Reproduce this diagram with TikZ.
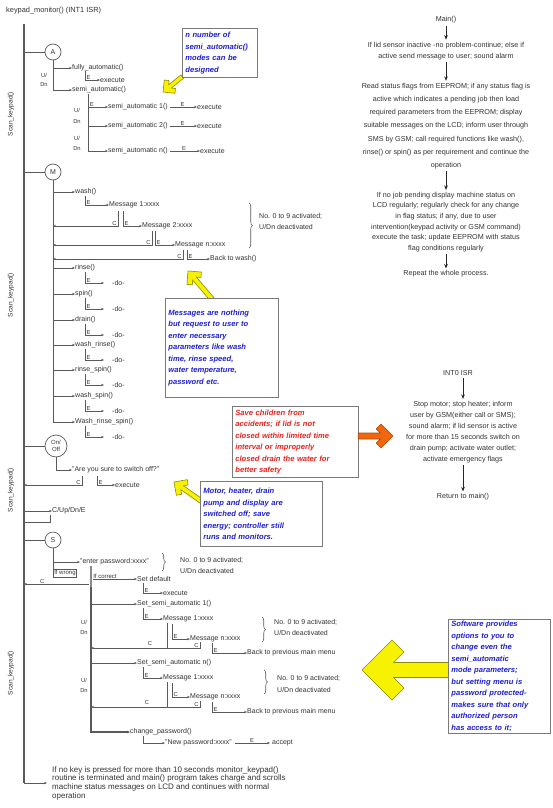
\documentclass[tikz,border=0pt]{standalone}
\usepackage{fontspec}
\setmainfont{Liberation Sans}
\usetikzlibrary{arrows.meta,decorations.pathreplacing}
\definecolor{ink}{HTML}{333333}
\definecolor{ln}{HTML}{5A5A5A}
\definecolor{noteblue}{HTML}{1F1FD6}
\definecolor{notered}{HTML}{E8231F}
\definecolor{yel}{HTML}{F7F200}
\definecolor{yelb}{HTML}{8F8A00}
\definecolor{org}{HTML}{F2660F}
\definecolor{orgb}{HTML}{B04A08}
\definecolor{boxb}{HTML}{7A7A7A}
\tikzset{
 txt/.style={inner sep=0pt, anchor=west, font=\fontsize{7}{7.5}\selectfont, text=ink},
 ctr/.style={inner sep=0pt, align=center, text=ink},
 lab/.style={inner sep=0pt, font=\fontsize{5.8}{6}\selectfont, text=ink},
 rotlab/.style={inner sep=0pt, rotate=90, font=\fontsize{6.6}{7}\selectfont, text=ink},
 wire/.style={draw=ln, line width=0.6pt},
 arr/.style={wire, -{Stealth[length=3pt,width=2.4pt]}},
 trunk/.style={draw=ln, line width=1.1pt},
 varr/.style={draw=black!85, line width=0.8pt, -{Stealth[length=4.5pt,width=3.6pt]}, shorten <=2pt, shorten >=2pt},
 circ/.style={circle, draw=ln, line width=0.7pt, minimum size=16pt, inner sep=0pt, font=\fontsize{7}{7}\selectfont, text=ink},
 note/.style={draw=boxb, line width=0.8pt, fill=white, inner xsep=3pt, inner ysep=2pt, align=left, anchor=north west, font=\fontsize{7.6}{11.5}\bfseries\itshape\selectfont},
 brace/.style={wire, decorate, decoration={brace, amplitude=3.5pt}},
 yarr/.style={fill=yel, draw=yelb, line width=0.6pt, line join=miter},
 oarr/.style={fill=org, draw=orgb, line width=0.6pt, line join=miter},
}
\newcommand\Ebr[5][]{\draw[arr,#1] (#2,#3) |- (#4.west) node[lab, pos=0.5, anchor=south west, xshift=1.2pt, yshift=0.4pt]{#5};}
\newcommand\Cbr[4]{\draw[arr] (#1,#2) |- (#4,#3) node[lab, pos=0.5, anchor=south east, xshift=-1.2pt, yshift=0.4pt]{C};}
\newcommand\chev[6]{%
 \begin{scope}[shift={(#2,#3)}, rotate=#4, scale=#5]
 \path[#1] (0,0) -- (10,10) -- (14,6) -- (10.5,2.5) -- (#6,2.5) -- (#6,-2.5) -- (10.5,-2.5) -- (14,-6) -- (10,-10) -- cycle;
 \end{scope}}
\begin{document}
\begin{tikzpicture}[x=1pt,y=-1pt]
\useasboundingbox (0,0) rectangle (553,808);
\fill[white] (0,0) rectangle (553,808);
% ---------- left flow ----------
\node[txt, font=\fontsize{7.4}{8}\selectfont] (title) at (6,11) {keypad\_monitor() (INT1 ISR)};
\coordinate (kend) at (47,783);
\draw[trunk] (24,24) -- (24,783);
\draw[arr] (24,783) -- (kend);
\node[rotlab] (sk1) at (11,114) {Scan\_keypad()};
\node[rotlab] (sk2) at (11,295) {Scan\_keypad()};
\node[rotlab] (sk3) at (11,490) {Scan\_keypad()};
\node[rotlab] (sk4) at (11,673) {Scan\_keypad()};
% A
\node[circ] (A) at (53,52) {A};
\draw[wire] (24,52) -- (A.west);
\node[txt] (fa) at (72,68) {fully\_automatic()};
\node[txt] (sa) at (72,90) {semi\_automatic()};
\draw[arr] (A.south) |- (sa.west);
\draw[arr] (53,68) -- (fa.west);
\node[txt] (ex1) at (100,80) {execute};
\Ebr{85}{71}{ex1}{E}
\node[lab] (ua) at (44,75) {U/};
\node[lab] (da) at (44,85) {Dn};
\node[txt] (s1) at (108,107) {semi\_automatic 1()};
\node[txt] (s2) at (108,126) {semi\_automatic 2()};
\node[txt] (sn) at (108,151) {semi\_automatic n()};
\draw[wire] (88,94) -- (88,151);
\draw[arr] (88,107) -- (s1.west) node[lab, pos=0, anchor=south west, xshift=1.5pt, yshift=0.4pt]{E};
\draw[arr] (88,126) -- (s2.west);
\draw[arr] (88,151) -- (sn.west);
\node[txt] (e1) at (197,107) {execute};
\node[txt] (e2) at (197,126) {execute};
\node[txt] (e3) at (200,151) {execute};
\draw[arr, shorten <=2pt] (s1.east) -- (e1.west) node[midway, above=0.6pt, lab]{E};
\draw[arr, shorten <=2pt] (s2.east) -- (e2.west) node[midway, above=0.6pt, lab]{E};
\draw[arr, shorten <=2pt] (sn.east) -- (e3.west) node[midway, above=0.6pt, lab]{E};
\node[lab] (u1) at (77,110) {U/};
\node[lab] (d1) at (77,122) {Dn};
\node[lab] (u2) at (77,138) {U/};
\node[lab] (d2) at (77,149) {Dn};
\chev{yarr}{163}{92}{38.7}{0.85}{29}
\node[note, text=noteblue, text width=69pt, minimum height=49pt] (n1) at (182,28) {n number of\\semi\_automatic()\\modes can be\\designed};
% M
\node[circ] (M) at (53,172) {M};
\draw[wire] (24,172) -- (M.west);
\draw[wire] (M.south) -- (53,422);
\node[txt] (wash) at (75,192) {wash()};
\draw[arr] (53,192) -- (wash.west);
\node[txt] (m1) at (109,205) {Message 1:xxxx};
\Ebr{85}{196}{m1}{E}
\node[txt] (m2) at (142,226) {Message 2:xxxx};
\Cbr{118}{211}{226}{53}
\Ebr{123}{211}{m2}{E}
\node[txt] (mn) at (175,245) {Message n:xxxx};
\Cbr{152}{231}{245}{53}
\Ebr{155}{231}{mn}{E}
\node[txt] (bw) at (210,259) {Back to wash()};
\Cbr{183}{250}{259}{53}
\Ebr{187}{250}{bw}{E}
\draw[brace] (249,203) -- (249,248);
\node[txt] (na1) at (259,216) {No. 0 to 9 activated;};
\node[txt] (na2) at (259,227) {U/Dn deactivated};
\node[txt] (rinse) at (75,268) {rinse()};
\node[txt] (spin) at (75,294) {spin()};
\node[txt] (drain) at (75,320) {drain()};
\node[txt] (wr) at (75,345) {wash\_rinse()};
\node[txt] (rs) at (75,370) {rinse\_spin()};
\node[txt] (ws) at (75,396) {wash\_spin()};
\node[txt] (wrs) at (75,422) {Wash\_rinse\_spin()};
\node[txt] (do1) at (112,283) {-do-};
\node[txt] (do2) at (112,309) {-do-};
\node[txt] (do3) at (112,335) {-do-};
\node[txt] (do4) at (112,360) {-do-};
\node[txt] (do5) at (112,385) {-do-};
\node[txt] (do6) at (112,411) {-do-};
\node[txt] (do7) at (112,437) {-do-};
\foreach \n/\d/\y in {rinse/do1/268, spin/do2/294, drain/do3/320, wr/do4/345, rs/do5/370, ws/do6/396, wrs/do7/422}{
  \draw[arr] (53,\y) -- (\n.west);
  \Ebr[shorten >=8pt]{85}{\y+4}{\d}{E}
}
\chev{yarr}{188}{271}{-49.4}{0.95}{39}
\node[note, text=noteblue, text width=107pt, minimum height=99pt] (n2) at (165,298) {Messages are nothing\\but request to user to\\enter necessary\\parameters like wash\\time, rinse speed,\\water temperature,\\password etc.};
% On/Off
\node[circ, minimum size=22pt, font=\fontsize{6}{6.5}\selectfont, align=center] (OO) at (56,446) {On/\\Off};
\draw[wire] (24,446) -- (OO.west);
\node[txt] (sure) at (72,470) {"Are you sure to switch off?"};
\draw[arr] (OO.south) |- (sure.west);
\node[txt] (ex3) at (115,485) {execute};
\Cbr{82}{476}{485}{24}
\Ebr{97}{476}{ex3}{E}
\node[note, text=notered, text width=120pt, minimum height=71pt] (nr) at (232,406) {Save children from\\accidents; if lid is not\\closed within limited time\\interval or improperly\\closed drain the water for\\better safety};
\chev{oarr}{393}{436}{180}{1.2}{29}
\chev{yarr}{174}{482}{-35}{0.95}{35}
\node[note, text=noteblue, text width=116pt, minimum height=65pt] (n3) at (200,481) {Motor, heater, drain\\pump and display are\\switched off; save\\energy; controller still\\runs and monitors.};
% C/Up/Dn/E
\node[txt] (cud) at (52,511) {C/Up/Dn/E};
\draw[arr] (24,511) -- (cud.west);
\draw[wire] (24,522) -- (50,522) -- (50,515);
% S
\node[circ] (S) at (53,540) {S};
\draw[wire] (24,540) -- (S.west);
\node[txt] (pw) at (80,562) {"enter password:xxxx"};
\draw[arr] (S.south) |- (pw.west);
\draw[wire] (53,562) -- (53,569);
\draw[brace] (162,553) -- (162,571);
\node[txt] (pa1) at (180,560) {No. 0 to 9 activated;};
\node[txt] (pa2) at (180,571) {U/Dn deactivated};
\node[draw=ln, line width=0.5pt, inner sep=1pt, anchor=north west, font=\fontsize{6}{6.5}\selectfont, text=ink] (ifw) at (53,569) {If wrong};
\draw[draw=ln!70, line width=2.5pt] (91,566) -- (91,587);
\draw[arr] (89,584) -- (24,584) node[lab, pos=0.72, above=0.5pt]{C};
\node[txt] (sd) at (137,579) {Set default};
\draw[arr] (93,579) -- (sd.west) node[lab, pos=0, anchor=south west, yshift=0.6pt, font=\fontsize{6}{6.5}\selectfont]{If correct};
\node[txt] (ex4) at (163,593) {execute};
\Ebr{143}{583}{ex4}{E}
\node[txt] (ss1) at (137,604) {Set\_semi\_automatic 1()};
\draw[arr] (91,604) -- (ss1.west);
\node[txt] (sm1) at (163,619) {Message 1:xxxx};
\Ebr{143}{608}{sm1}{E}
\node[lab] (us1) at (84,622) {U/};
\node[lab] (ds1) at (84,632) {Dn};
\node[txt] (smn) at (190,639) {Message n:xxxx};
\Ebr{172}{624}{smn}{E}
\draw[wire] (167,623) -- (167,648);
\Cbr{200}{642}{648}{91}
\node[lab] (c1) at (150,643) {C};
\node[txt] (bp1) at (247,653) {Back to previous main menu};
\Ebr{212}{643}{bp1}{E}
\draw[brace] (262,617) -- (262,642);
\node[txt] (pb1) at (274,622) {No. 0 to 9 activated;};
\node[txt] (pb2) at (274,633) {U/Dn deactivated};
\node[txt] (ssn) at (137,663) {Set\_semi\_automatic n()};
\draw[arr] (91,663) -- (ssn.west);
\node[txt] (sn1) at (163,678) {Message 1:xxxx};
\Ebr{143}{667}{sn1}{E}
\node[lab] (us2) at (84,680) {U/};
\node[lab] (ds2) at (84,690) {Dn};
\node[txt] (snn) at (190,697) {Message n:xxxx};
\Ebr{172}{683}{snn}{C}
\draw[wire] (167,682) -- (167,707);
\Cbr{200}{701}{707}{91}
\node[lab] (c2) at (147,702) {C};
\node[txt] (bp2) at (247,712) {Back to previous main menu};
\Ebr{212}{702}{bp2}{E}
\draw[brace] (264,670) -- (264,694);
\node[txt] (pc1) at (277,678) {No. 0 to 9 activated;};
\node[txt] (pc2) at (277,690) {U/Dn deactivated};
\node[txt] (cp) at (130,732) {change\_password()};
\draw[trunk, -{Stealth[length=3pt,width=2.6pt]}] (91,587) |- (cp.west);
\node[txt] (np) at (165,743) {"New password:xxxx"};
\Ebr{143}{736}{np}{}
\node[txt] (acc) at (272,743) {accept};
\draw[arr, shorten <=3pt, shorten >=2pt] (np.east) -- (acc.west) node[midway, above=0.6pt, lab]{E};
\chev{yarr}{362}{670}{0}{3}{29.5}
\node[note, text=noteblue, text width=96pt, minimum height=114pt] (n4) at (448,619) {Software provides\\options to you to\\change even the\\semi\_automatic\\mode parameters;\\but setting menu is\\password protected-\\makes sure that only\\authorized person\\has access to it;};
\node[anchor=north west, inner sep=0pt, align=left, font=\fontsize{8}{8.8}\selectfont, text=ink] (nokey) at (52,766) {If no key is pressed for more than 10 seconds monitor\_keypad()\\routine is terminated and main() program takes charge and scrolls\\machine status messages on LCD and continues with normal\\operation};
% ---------- right flow ----------
\node[ctr, font=\fontsize{7.2}{8}\selectfont] (main) at (446,20) {Main()};
\node[ctr, font=\fontsize{7.2}{11.5}\selectfont] (lid) at (446,51) {If lid sensor inactive -no problem-continue; else if\\active send message to user; sound alarm};
\node[ctr, font=\fontsize{7.2}{13.2}\selectfont] (read) at (446,126) {Read status flags from EEPROM; if any status flag is\\active which indicates a pending job then load\\required parameters from the EEPROM; display\\suitable messages on the LCD; inform user through\\SMS by GSM; call required functions like wash(),\\rinse() or spin() as per requirement and continue the\\operation};
\node[ctr, font=\fontsize{7.2}{10.6}\selectfont] (job) at (446,222) {If no job pending display machine status on\\LCD regularly; regularly check for any change\\in flag status; if any, due to user\\intervention(keypad activity or GSM command)\\execute the task; update EEPROM with status\\flag conditions regularly};
\node[ctr, font=\fontsize{7.2}{8}\selectfont] (rep) at (446,274) {Repeat the whole process.};
\draw[varr] (main) -- (lid);
\draw[varr] (lid) -- (read);
\draw[varr] (read) -- (job);
\draw[varr] (job) -- (rep);
\node[ctr, font=\fontsize{7.2}{8}\selectfont] (int0) at (458,373) {INT0 ISR};
\node[ctr, font=\fontsize{7.2}{11}\selectfont] (stop) at (463,432) {Stop motor; stop heater; inform\\user by GSM(either call or SMS);\\sound alarm; if lid sensor is active\\for more than 15 seconds switch on\\drain pump; activate water outlet;\\activate emergency flags};
\node[ctr, font=\fontsize{7.2}{8}\selectfont] (ret) at (463,497) {Return to main()};
\draw[varr] (int0.south -| stop.north) -- (stop.north);
\draw[varr] (stop) -- (ret);
\end{tikzpicture}
\end{document}
